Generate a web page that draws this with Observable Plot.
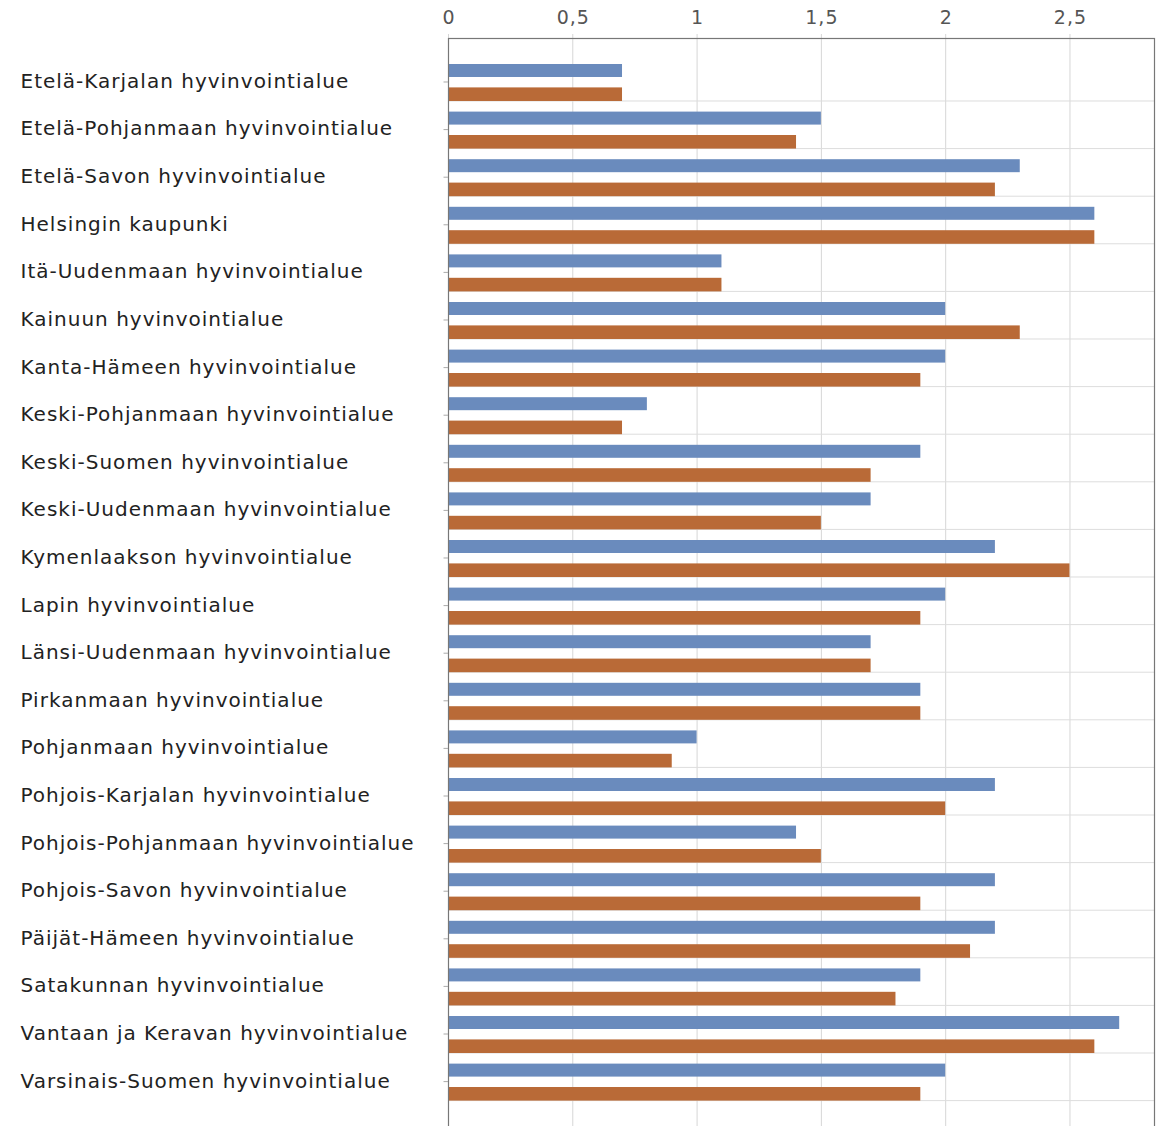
<!DOCTYPE html>
<html>
<head>
<meta charset="utf-8">
<script src="https://cdn.jsdelivr.net/npm/d3@7"></script>
<script src="https://cdn.jsdelivr.net/npm/@observablehq/plot@0.6"></script>
<style>
  html, body { margin: 0; padding: 0; background: #fff; overflow: hidden; }
  #chart svg { display: block; }
  #chart svg text { letter-spacing: 1px; }
</style>
</head>
<body>
<div id="chart"></div>
<script>
const categories = [
  "Etelä-Karjalan hyvinvointialue",
  "Etelä-Pohjanmaan hyvinvointialue",
  "Etelä-Savon hyvinvointialue",
  "Helsingin kaupunki",
  "Itä-Uudenmaan hyvinvointialue",
  "Kainuun hyvinvointialue",
  "Kanta-Hämeen hyvinvointialue",
  "Keski-Pohjanmaan hyvinvointialue",
  "Keski-Suomen hyvinvointialue",
  "Keski-Uudenmaan hyvinvointialue",
  "Kymenlaakson hyvinvointialue",
  "Lapin hyvinvointialue",
  "Länsi-Uudenmaan hyvinvointialue",
  "Pirkanmaan hyvinvointialue",
  "Pohjanmaan hyvinvointialue",
  "Pohjois-Karjalan hyvinvointialue",
  "Pohjois-Pohjanmaan hyvinvointialue",
  "Pohjois-Savon hyvinvointialue",
  "Päijät-Hämeen hyvinvointialue",
  "Satakunnan hyvinvointialue",
  "Vantaan ja Keravan hyvinvointialue",
  "Varsinais-Suomen hyvinvointialue"
];
const seriesBlue   = [0.7, 1.5, 2.3, 2.6, 1.1, 2.0, 2.0, 0.8, 1.9, 1.7, 2.2, 2.0, 1.7, 1.9, 1.0, 2.2, 1.4, 2.2, 2.2, 1.9, 2.7, 2.0];
const seriesOrange = [0.7, 1.4, 2.2, 2.6, 1.1, 2.3, 1.9, 0.7, 1.7, 1.5, 2.5, 1.9, 1.7, 1.9, 0.9, 2.0, 1.5, 1.9, 2.1, 1.8, 2.6, 1.9];
const xTicks = [0, 0.5, 1, 1.5, 2, 2.5];

const blueData = categories.map((c, i) => ({category: c, value: seriesBlue[i]}));
const orangeData = categories.map((c, i) => ({category: c, value: seriesOrange[i]}));

const fmt = v => String(v).replace(".", ",");
const font = "DejaVu Sans, sans-serif";

const plot = Plot.plot({
  width: 1156,
  height: 1140,
  marginTop: 38,
  marginLeft: 448,
  marginRight: 2,
  marginBottom: 1,
  style: {fontFamily: font, background: "#fff"},
  x: {type: "linear", domain: [0, 2.84], range: [448, 1154], axis: null},
  y: {domain: categories, range: [64, 1100.6], paddingInner: 0.223, paddingOuter: 0, round: false, axis: null},
  marks: [
    // vertical gridlines (extend slightly above the frame like ticks)
    Plot.ruleX(xTicks, {x: d => d, insetTop: -4, stroke: "#d6d6d6", strokeWidth: 1}),
    // horizontal gridlines at bottom of each group
    Plot.ruleY(categories, {y: d => d, dy: 18, stroke: "#dddddd", strokeWidth: 1}),
    Plot.barX(blueData, {x: "value", y: "category", fill: "#6a8bbd", insetBottom: 24, insetTop: 0}),
    Plot.barX(orangeData, {x: "value", y: "category", fill: "#b96a37", insetTop: 23.4, insetBottom: 0}),
    Plot.frame({stroke: "#777", strokeWidth: 1.2}),
    // small left ticks at category centres
    Plot.ruleY(categories, {y: d => d, x1: 0, x2: -0.018, dy: -1, stroke: "#aaa"}),
    // x tick labels on top
    Plot.text(xTicks, {x: d => d, text: d => fmt(d), frameAnchor: "top", lineAnchor: "middle", dy: -21, dx: 0.5, fontSize: 19, fill: "#555"}),
    // category labels
    Plot.text(categories, {y: d => d, text: d => d, frameAnchor: "left", lineAnchor: "middle", dx: -428, dy: -1.5, textAnchor: "start", fontSize: 20, fill: "#222"})
  ]
});
document.getElementById("chart").appendChild(plot);
</script>
</body>
</html>
